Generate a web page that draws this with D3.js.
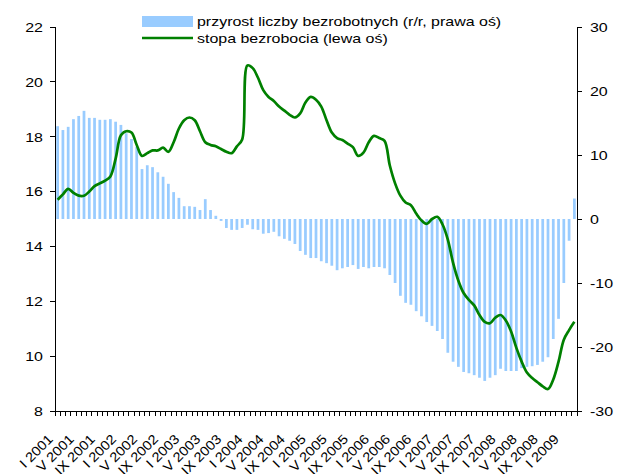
<!DOCTYPE html>
<html>
<head>
<meta charset="utf-8">
<script src="https://cdn.jsdelivr.net/npm/d3@7"></script>
<style>
  body { margin: 0; background: #fff; }
  text { font-family: "Liberation Sans", Arial, sans-serif; fill: #000; }
</style>
</head>
<body>
<div id="chart"></div>
<script>
// Months I 2001 .. III 2009 (99 categories)
const romanMonths = ["I", "II", "III", "IV", "V", "VI", "VII", "VIII", "IX", "X", "XI", "XII"];
const years = [2001, 2002, 2003, 2004, 2005, 2006, 2007, 2008, 2009];
const categories = [];
years.forEach(y => romanMonths.forEach(m => categories.push(m + " " + y)));
categories.length = 99;

// Tick labels shown every 4th month
const tickLabels = [
    "I 2001", "V 2001", "IX 2001", "I 2002", "V 2002", "IX 2002",
    "I 2003", "V 2003", "IX 2003", "I 2004", "V 2004", "IX 2004",
    "I 2005", "V 2005", "IX 2005", "I 2006", "V 2006", "IX 2006",
    "I 2007", "V 2007", "IX 2007", "I 2008", "V 2008", "IX 2008", "I 2009"
];

// przyrost liczby bezrobotnych (r/r, %) - right axis
const growthValues = [
    14.5, 13.9, 14.4, 15.6, 16.1, 16.9, 15.8, 15.8, 15.5, 15.5,
    15.6, 15.2, 14.7, 13.4, 12.5, 11.3, 7.8, 8.4, 8.1, 7.3,
    6.6, 5.5, 4.2, 3.3, 2.0, 2.0, 1.9, 1.4, 3.1, 1.4,
    0.5, -0.3, -1.4, -1.7, -1.7, -1.4, -0.9, -1.6, -1.7, -2.3,
    -2.2, -2.0, -2.7, -3.1, -3.4, -3.9, -5.0, -5.6, -6.1, -6.1,
    -6.6, -6.9, -7.3, -8.0, -7.7, -7.5, -7.2, -7.8, -7.5, -7.7,
    -7.5, -7.5, -7.7, -8.75, -10.0, -12.0, -13.1, -13.4, -14.4, -15.2,
    -16.1, -16.7, -17.5, -18.75, -20.9, -22.3, -23.1, -23.9, -24.1, -24.4,
    -24.8, -25.3, -24.8, -24.4, -23.4, -23.75, -23.75, -23.75, -23.3, -23.1,
    -23.0, -22.8, -22.3, -21.6, -18.75, -15.6, -10.0, -3.4, 3.2
];

// stopa bezrobocia (%) - left axis
const rateValues = [
    15.7, 15.9, 16.1, 15.95, 15.85, 15.85, 16.0, 16.2, 16.3, 16.4,
    16.55, 17.2, 18.05, 18.2, 18.15, 17.7, 17.3, 17.4, 17.5, 17.5,
    17.6, 17.45, 17.8, 18.3, 18.6, 18.7, 18.6, 18.2, 17.8, 17.7,
    17.65, 17.55, 17.45, 17.4, 17.65, 17.9, 20.6, 20.5, 20.15, 19.7,
    19.45, 19.3, 19.1, 18.95, 18.8, 18.7, 18.85, 19.25, 19.45, 19.35,
    19.1, 18.6, 18.15, 17.95, 17.88, 17.75, 17.62, 17.3, 17.42, 17.8,
    18.03, 17.95, 17.85, 16.95, 16.3, 15.85, 15.6, 15.5, 15.2, 14.95,
    14.82, 15.0, 15.08, 14.8, 14.25, 13.4, 12.75, 12.3, 12.05, 11.85,
    11.5, 11.25, 11.2, 11.4, 11.5, 11.3, 10.9, 10.3, 9.8, 9.4,
    9.2, 9.05, 8.9, 8.8, 9.15, 9.8, 10.6, 10.95, 11.25
];

const leftTicks = [8, 10, 12, 14, 16, 18, 20, 22];
const rightTicks = [-30, -20, -10, 0, 10, 20, 30];

const legendLabels = ["przyrost liczby bezrobotnych (r/r, prawa oś)", "stopa bezrobocia (lewa oś)"];

function init() {
    const w = 621, h = 474;
    const left = 55, right = 577, top = 27, bottom = 411;
    const SX = 1.2; // text in the original is stretched horizontally
    const fontSize = 13.3;

    const svg = d3.select("#chart").append("svg")
        .attr("width", w)
        .attr("height", h);

    const x = d3.scaleBand().domain(categories).range([left, right]).paddingInner(0.48).paddingOuter(0.24);
    const xb = d3.scaleBand().domain(categories).range([left, right]); // category slots for ticks
    const yL = d3.scaleLinear().domain([8, 22]).range([bottom, top]);
    const yR = d3.scaleLinear().domain([-30, 30]).range([bottom, top]);

    // bars
    svg.append("g")
        .selectAll("rect")
        .data(growthValues)
        .enter()
        .append("rect")
        .attr("x", (d, i) => x(categories[i]))
        .attr("width", x.bandwidth())
        .attr("y", d => yR(Math.max(0, d)))
        .attr("height", d => Math.abs(yR(d) - yR(0)))
        .attr("fill", "#99ccff");

    // line
    const line = d3.line()
        .x((d, i) => xb(categories[i]) + xb.bandwidth() / 2)
        .y(d => yL(d))
        .curve(d3.curveCatmullRom.alpha(0.5));

    svg.append("path")
        .datum(rateValues)
        .attr("d", line)
        .attr("fill", "none")
        .attr("stroke", "#008000")
        .attr("stroke-width", 2.7)
        .attr("stroke-linejoin", "round");

    // axes lines
    const axes = svg.append("g").attr("stroke", "#000").attr("stroke-width", 1).attr("shape-rendering", "crispEdges");
    axes.append("line").attr("x1", left).attr("x2", left).attr("y1", top).attr("y2", bottom);
    axes.append("line").attr("x1", right).attr("x2", right).attr("y1", top).attr("y2", bottom);
    axes.append("line").attr("x1", left - 5).attr("x2", right + 5).attr("y1", bottom).attr("y2", bottom);

    // left axis ticks + labels
    leftTicks.forEach(t => {
        axes.append("line").attr("x1", left - 5).attr("x2", left).attr("y1", yL(t)).attr("y2", yL(t));
        svg.append("text")
            .attr("transform", `translate(${left - 12},${yL(t) + 4.8}) scale(${SX},1)`)
            .attr("text-anchor", "end")
            .attr("font-size", fontSize)
            .text(t);
    });

    // right axis ticks + labels
    rightTicks.forEach(t => {
        axes.append("line").attr("x1", right).attr("x2", right + 5).attr("y1", yR(t)).attr("y2", yR(t));
        svg.append("text")
            .attr("transform", `translate(${right + 13},${yR(t) + 4.8}) scale(${SX},1)`)
            .attr("text-anchor", "start")
            .attr("font-size", fontSize)
            .text(t);
    });

    // bottom category ticks
    categories.forEach(c => {
        axes.append("line").attr("x1", xb(c)).attr("x2", xb(c)).attr("y1", bottom).attr("y2", bottom + 5);
    });
    axes.append("line").attr("x1", right).attr("x2", right).attr("y1", bottom).attr("y2", bottom + 5);

    // rotated month labels
    tickLabels.forEach((lab, k) => {
        const c = categories[k * 4];
        const cx = xb(c) + xb.bandwidth() / 2;
        svg.append("text")
            .attr("transform", `translate(${cx - 4},${bottom + 29}) rotate(-45) scale(1.1,1)`)
            .attr("text-anchor", "end")
            .attr("font-size", fontSize)
            .text(lab);
    });

    // legend
    const legend = svg.append("g");
    legend.append("rect")
        .attr("x", 142).attr("y", 16).attr("width", 51).attr("height", 11)
        .attr("fill", "#99ccff");
    legend.append("line")
        .attr("x1", 142).attr("x2", 193).attr("y1", 38).attr("y2", 38)
        .attr("stroke", "#008000").attr("stroke-width", 2.7);
    legendLabels.forEach((lab, i) => {
        legend.append("text")
            .attr("transform", `translate(197,${26 + i * 17}) scale(${SX},1)`)
            .attr("font-size", fontSize)
            .text(lab);
    });
}

window.onload = init;
</script>
</body>
</html>
